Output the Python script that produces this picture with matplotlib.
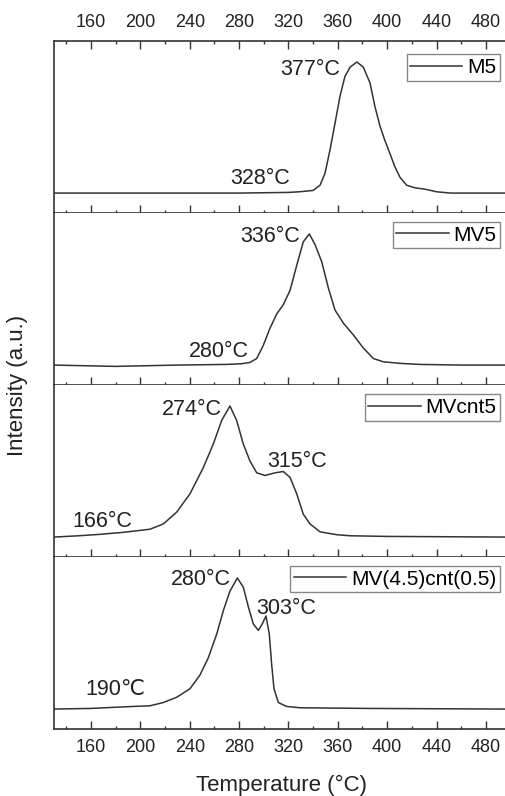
import numpy as np
import matplotlib
matplotlib.use("Agg")
import matplotlib.pyplot as plt
from matplotlib.ticker import MultipleLocator

plt.rcParams['font.family'] = ['Liberation Sans', 'DejaVu Sans']

# (temperature in C, normalised intensity)
t_m5 = [130, 200, 280, 320, 329, 340, 345.6, 349.6, 353.7, 357.7, 361.8, 365.8, 369.9, 375.5,
        380.7, 386.1, 390.1, 394.2, 398.2, 402.3, 406.3, 410.4, 415.8, 422.5, 430.6, 440, 451, 470, 496]
i_m5 = [0, 0, 0, 0.005, 0.01, 0.02, 0.06, 0.15, 0.33, 0.53, 0.74, 0.89, 0.96, 1.0,
        0.96, 0.84, 0.66, 0.51, 0.40, 0.30, 0.20, 0.12, 0.06, 0.04, 0.03, 0.01, 0.0, 0.0, 0.0]

t_mv5 = [130, 180, 230, 270, 282, 288.8, 294.3, 299.6, 305, 310.5, 315.8, 321.3, 326.7, 332, 336.9,
         341.5, 346.9, 352.3, 357.7, 364.5, 372.6, 380.7, 388.8, 396.9, 410.4, 426.6, 460, 496]
i_mv5 = [0, -0.01, 0, 0.005, 0.01, 0.02, 0.05, 0.15, 0.28, 0.39, 0.46, 0.57, 0.76, 0.94, 1.0,
         0.92, 0.79, 0.59, 0.42, 0.32, 0.23, 0.13, 0.05, 0.025, 0.013, 0.005, 0, 0]

t_cnt5 = [130, 150, 166, 185, 199, 207.8, 218.6, 229.4, 240.2, 251, 259.1, 265.9, 272.6, 278, 283.4,
          288.8, 294.3, 301, 309.1, 315.8, 321.3, 326.7, 332, 337.5, 345.6, 359.1, 369.9, 400, 496]
i_cnt5 = [0, 0.01, 0.02, 0.035, 0.05, 0.06, 0.10, 0.19, 0.33, 0.53, 0.71, 0.89, 1.0, 0.89, 0.71,
          0.58, 0.49, 0.47, 0.49, 0.50, 0.455, 0.33, 0.175, 0.10, 0.04, 0.018, 0.01, 0.005, 0]

t_mix = [130, 160, 194, 207.8, 218.6, 229.4, 240.2, 248.3, 255, 261.8, 267.2, 272.6, 278.6, 283.4,
         287.5, 291.5, 295.6, 298.8, 301.8, 304.5, 306.4, 308.3, 311.8, 318.5, 329.3, 383, 496]
i_mix = [0, 0.005, 0.02, 0.025, 0.05, 0.09, 0.155, 0.26, 0.39, 0.57, 0.75, 0.90, 1.0, 0.93,
         0.78, 0.65, 0.60, 0.65, 0.71, 0.57, 0.34, 0.155, 0.05, 0.02, 0.01, 0.005, 0]

names = ["M5", "MV5", "MVcnt5", "MV(4.5)cnt(0.5)"]
temps = [t_m5, t_mv5, t_cnt5, t_mix]
vals = [i_m5, i_mv5, i_cnt5, i_mix]

# peak labels: (text, x, y) per panel
notes = [
    [("377°C", 338, 0.946), ("328°C", 297, 0.108)],
    [("336°C", 305, 0.979), ("280°C", 264, 0.102)],
    [("274°C", 242, 0.976), ("315°C", 327, 0.579), ("166°C", 169, 0.118)],
    [("280°C", 249, 0.985), ("303°C", 318, 0.766), ("190℃", 180, 0.151)],
]
leg_top = [0.924, 0.949, 0.945, 0.948]

dark = "#333333"
fig = plt.figure(figsize=(5.05, 7.96), dpi=100)
gs = fig.add_gridspec(4, 1, left=54/505, right=1.0, bottom=1-729/796, top=1-41/796, hspace=0)

axes = []
for k in range(4):
    ax = fig.add_subplot(gs[k])
    axes.append(ax)
    ax.plot(temps[k], vals[k], color=dark, lw=1.1, label=names[k])
    ax.set_xlim(130, 495.5)
    ax.set_ylim(-0.152, 1.16)
    ax.set_yticks([])
    ax.spines['right'].set_visible(False)
    for s in ['left', 'bottom', 'top']:
        ax.spines[s].set_color(dark)
        ax.spines[s].set_linewidth(1.2)
    if k > 0:
        ax.spines['top'].set_visible(False)
    ax.xaxis.set_major_locator(MultipleLocator(40))
    ax.xaxis.set_minor_locator(MultipleLocator(20))
    ax.tick_params(axis='x', which='both', direction='in', color=dark,
                   top=(k == 0), bottom=True,
                   labeltop=(k == 0), labelbottom=(k == 3),
                   labelsize=13, labelcolor='#222222', pad=7)
    ax.tick_params(axis='x', which='major', length=5.5, width=1.0)
    ax.tick_params(axis='x', which='minor', length=2.5, width=1.0)
    for txt, x, y in notes[k]:
        ax.text(x, y, txt, ha='center', va='center', fontsize=15.5, color='#222222',
                family=['Liberation Sans', 'DejaVu Sans'])
    leg = ax.legend(loc='upper right', bbox_to_anchor=(0.99, leg_top[k]), borderaxespad=0,
                    fontsize=15, fancybox=False, framealpha=1, edgecolor='#888888',
                    handlelength=2.5, handletextpad=0.25, borderpad=0.18)
    leg.get_frame().set_linewidth(1.0)

axes[0].set_xticks([160, 200, 240, 280, 320, 360, 400, 440, 480])
fig.text(0.035, (1 - 385/796), "Intensity (a.u.)", rotation=90, ha='center', va='center',
         fontsize=16, color='#222222')
fig.text(282/505, 1 - 785/796, "Temperature (°C)", ha='center', va='center',
         fontsize=16, color='#222222')

fig.savefig("out.png", dpi=100)
